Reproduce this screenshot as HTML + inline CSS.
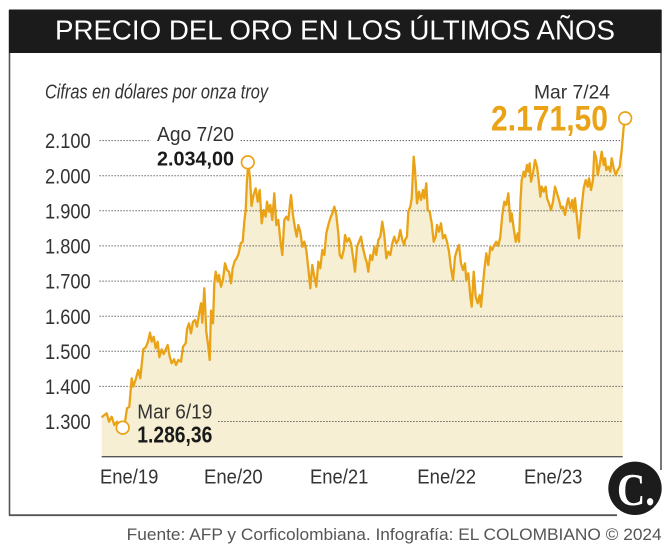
<!DOCTYPE html>
<html>
<head>
<meta charset="utf-8">
<style>
  html,body{margin:0;padding:0;background:#fff;}
  svg{display:block;}
  text{font-family:"Liberation Sans",sans-serif;}
</style>
</head>
<body>
<svg width="671" height="551" viewBox="0 0 671 551" xmlns="http://www.w3.org/2000/svg">
  <rect x="0" y="0" width="671" height="551" fill="#ffffff"/>

  <!-- frame -->
  <line x1="9.5" y1="10" x2="9.5" y2="515.5" stroke="#555" stroke-width="1.6"/>
  <line x1="9" y1="515.2" x2="617" y2="515.2" stroke="#555" stroke-width="1.8"/>
  <line x1="661" y1="10" x2="661" y2="470" stroke="#555" stroke-width="1.6"/>

  <!-- title bar -->
  <rect x="9" y="9.5" width="652.5" height="43.5" fill="#1b1b1b"/>
  <text x="55" y="39.5" font-size="28" fill="#ffffff" textLength="560" lengthAdjust="spacingAndGlyphs">PRECIO DEL ORO EN LOS ÚLTIMOS AÑOS</text>

  <!-- subtitle -->
  <text x="45" y="98.3" font-size="20" font-style="italic" fill="#333" textLength="223" lengthAdjust="spacingAndGlyphs">Cifras en dólares por onza troy</text>

  <!-- area fill -->
  <polygon fill="#f6efd3" points="101.7,456.7 101.7,416.7 102.3,416.7 106.7,413.3 109,421.7 111.7,416.7 114.3,425 117,421.7 120,426.7 122.7,427.7 125,421.7 127,408.3 129.3,406.7 131.7,378.3 133.3,386.7 135.7,379.3 138.3,370 140.3,378.3 143.3,349.3 145.7,347.3 147.7,342.7 150,332.7 151.7,341.7 153.7,336.7 155.7,348.3 157.7,341.7 159.3,357.3 161.7,349.3 163.7,354 165.7,349.3 167.7,345 169.7,356.7 171.7,363.3 174,359.3 176,365 178.3,360 181,361.7 183,346.7 185.7,343.3 187,329.3 189,323.3 191,333.3 193,321.7 195,320 197,326.7 199,314 201,303.3 202.3,322.7 204.3,288.3 206.3,331.7 208.3,346.7 209.7,360 211,310.7 213,323.3 214.3,283.3 215.7,271.7 217.7,281.7 219,275 221,286.7 223,279.3 225,263.3 227,270 229,271.7 231,283.3 232.7,268.3 234.7,261 236.7,258.3 238.7,253.3 240.7,243.3 242.7,241.7 244.3,221.7 245.7,210 247,180 248.3,163.5 250,178 251.5,206 253.5,195 255.7,188.3 257.7,201.7 259.7,190 261.7,223.3 263.7,210 265.7,216.7 267,201.7 269,211.7 270.3,205 272.3,220 274.3,193.3 276.3,225 278.3,220 280.3,240 282.3,255 284.3,220 286.3,216.7 288.3,220 291,195 293,215 295,228.3 296.7,236.7 298.3,225 300.3,231.7 302.3,246.7 304.3,241.7 306.3,250 308.3,268.3 310.3,288.3 312.3,265 314.3,276.7 316.3,286.7 318.3,261.7 320.3,268.3 322.3,250 324.3,255 326.3,233.3 328.3,225 330.3,218.3 332.3,213.3 334.3,206.7 336.3,215 338.3,233.3 339.7,255 341.7,258.3 343.7,250 345,235 347,241.7 349,238.3 351,243.3 353,256.7 355,271.7 357,246.7 359,241.7 361,236.7 363,248.3 365,256.7 367,263.3 368.3,271.7 370.3,255 372.3,260 374.3,246.7 376.3,255 378.3,240 380.3,236.7 382.3,221.7 384.3,235 386.3,258.3 388.3,251.7 390.3,255 392.3,243.3 394.3,236.7 396.3,243.3 398.3,240 400.3,230 402.3,240 404.3,245 405,240 407,236.7 408.3,211.7 410.3,206.7 411.7,198.3 413.7,156.7 415,170 417,203.3 419,191.7 421,200 423,190 424.3,198.3 426.3,183.3 427.7,210 429.7,211.7 431.7,223.3 433.7,241.7 435.7,236.7 437,225 439,231.7 441,223.3 443,238.3 445,235 447,241.7 449,251.7 451,268.3 453,280 455,256.7 457,250 459,245 461,263.3 463,270 465,263.3 466.3,280 468.3,273.3 470.3,296.7 471.7,306.7 473.7,271.7 475.7,296.7 477.7,303.3 479.7,295 481,306.7 482.3,293.3 484.3,270 486.3,253.3 488.3,265 490.3,246.7 492.3,250 494.3,245 496.3,241.7 498.3,246 500.3,236.7 502.3,215 504.3,201.7 506.3,205 508.3,193.3 510.3,221.7 511.7,213.3 513.7,228.3 515.7,241.7 517.7,233.3 519,241.7 520.5,200 521.7,180 523.7,171.7 525,176.7 527,165 528.3,171.7 529.7,163.3 531,181.7 533,173.3 535,160 537,166.7 539,183.3 540.3,196.7 541.7,186.7 543.7,191.7 545.7,186.7 547,198.3 549,203.3 551,210 553,201.7 555,186.7 557,193.3 559,200 561,208.3 563,206.7 565,215 567,203.3 568.3,198.3 570.3,208.3 572.3,200 573.7,211.7 575,198.3 577,218.3 579,238.3 580.3,223.3 581.7,206.7 583.7,188.3 585.7,180 587.7,186.7 589,178.3 591,190 593,180 594.3,151.7 596.3,158.3 597.7,175 599.7,165 601.7,151.7 603.7,165 605,158.3 606.3,170 608.3,166.7 610.3,171.7 611.7,158.3 613.7,168.3 615.7,175 617.7,170 619.7,166.7 621.7,150 622.8,138 622.8,456.7"/>

  <!-- gridlines -->
  <g stroke="#444" stroke-width="1" stroke-dasharray="1.2 1.8" fill="none">
    <line x1="99.5" y1="140.6" x2="150.7" y2="140.6"/>
    <line x1="240.7" y1="140.6" x2="622.7" y2="140.6"/>
    <line x1="99.5" y1="175.7" x2="622.7" y2="175.7"/>
    <line x1="99.5" y1="210.8" x2="622.7" y2="210.8"/>
    <line x1="99.5" y1="245.9" x2="622.7" y2="245.9"/>
    <line x1="99.5" y1="281.1" x2="622.7" y2="281.1"/>
    <line x1="99.5" y1="316.2" x2="622.7" y2="316.2"/>
    <line x1="99.5" y1="351.3" x2="622.7" y2="351.3"/>
    <line x1="99.5" y1="386.4" x2="622.7" y2="386.4"/>
    <line x1="218.3" y1="421.5" x2="622.7" y2="421.5"/>
  </g>

  <!-- x axis -->
  <line x1="101.7" y1="456.7" x2="622.7" y2="456.7" stroke="#555" stroke-width="1.4"/>

  <!-- gold line -->
  <polyline fill="none" stroke="#eaa316" stroke-width="2.3" stroke-linejoin="round" stroke-linecap="round" points="102.3,416.7 106.7,413.3 109,421.7 111.7,416.7 114.3,425 117,421.7 120,426.7 122.7,427.7 125,421.7 127,408.3 129.3,406.7 131.7,378.3 133.3,386.7 135.7,379.3 138.3,370 140.3,378.3 143.3,349.3 145.7,347.3 147.7,342.7 150,332.7 151.7,341.7 153.7,336.7 155.7,348.3 157.7,341.7 159.3,357.3 161.7,349.3 163.7,354 165.7,349.3 167.7,345 169.7,356.7 171.7,363.3 174,359.3 176,365 178.3,360 181,361.7 183,346.7 185.7,343.3 187,329.3 189,323.3 191,333.3 193,321.7 195,320 197,326.7 199,314 201,303.3 202.3,322.7 204.3,288.3 206.3,331.7 208.3,346.7 209.7,360 211,310.7 213,323.3 214.3,283.3 215.7,271.7 217.7,281.7 219,275 221,286.7 223,279.3 225,263.3 227,270 229,271.7 231,283.3 232.7,268.3 234.7,261 236.7,258.3 238.7,253.3 240.7,243.3 242.7,241.7 244.3,221.7 245.7,210 247,180 248.3,163.5 250,178 251.5,206 253.5,195 255.7,188.3 257.7,201.7 259.7,190 261.7,223.3 263.7,210 265.7,216.7 267,201.7 269,211.7 270.3,205 272.3,220 274.3,193.3 276.3,225 278.3,220 280.3,240 282.3,255 284.3,220 286.3,216.7 288.3,220 291,195 293,215 295,228.3 296.7,236.7 298.3,225 300.3,231.7 302.3,246.7 304.3,241.7 306.3,250 308.3,268.3 310.3,288.3 312.3,265 314.3,276.7 316.3,286.7 318.3,261.7 320.3,268.3 322.3,250 324.3,255 326.3,233.3 328.3,225 330.3,218.3 332.3,213.3 334.3,206.7 336.3,215 338.3,233.3 339.7,255 341.7,258.3 343.7,250 345,235 347,241.7 349,238.3 351,243.3 353,256.7 355,271.7 357,246.7 359,241.7 361,236.7 363,248.3 365,256.7 367,263.3 368.3,271.7 370.3,255 372.3,260 374.3,246.7 376.3,255 378.3,240 380.3,236.7 382.3,221.7 384.3,235 386.3,258.3 388.3,251.7 390.3,255 392.3,243.3 394.3,236.7 396.3,243.3 398.3,240 400.3,230 402.3,240 404.3,245 405,240 407,236.7 408.3,211.7 410.3,206.7 411.7,198.3 413.7,156.7 415,170 417,203.3 419,191.7 421,200 423,190 424.3,198.3 426.3,183.3 427.7,210 429.7,211.7 431.7,223.3 433.7,241.7 435.7,236.7 437,225 439,231.7 441,223.3 443,238.3 445,235 447,241.7 449,251.7 451,268.3 453,280 455,256.7 457,250 459,245 461,263.3 463,270 465,263.3 466.3,280 468.3,273.3 470.3,296.7 471.7,306.7 473.7,271.7 475.7,296.7 477.7,303.3 479.7,295 481,306.7 482.3,293.3 484.3,270 486.3,253.3 488.3,265 490.3,246.7 492.3,250 494.3,245 496.3,241.7 498.3,246 500.3,236.7 502.3,215 504.3,201.7 506.3,205 508.3,193.3 510.3,221.7 511.7,213.3 513.7,228.3 515.7,241.7 517.7,233.3 519,241.7 520.5,200 521.7,180 523.7,171.7 525,176.7 527,165 528.3,171.7 529.7,163.3 531,181.7 533,173.3 535,160 537,166.7 539,183.3 540.3,196.7 541.7,186.7 543.7,191.7 545.7,186.7 547,198.3 549,203.3 551,210 553,201.7 555,186.7 557,193.3 559,200 561,208.3 563,206.7 565,215 567,203.3 568.3,198.3 570.3,208.3 572.3,200 573.7,211.7 575,198.3 577,218.3 579,238.3 580.3,223.3 581.7,206.7 583.7,188.3 585.7,180 587.7,186.7 589,178.3 591,190 593,180 594.3,151.7 596.3,158.3 597.7,175 599.7,165 601.7,151.7 603.7,165 605,158.3 606.3,170 608.3,166.7 610.3,171.7 611.7,158.3 613.7,168.3 615.7,175 617.7,170 619.7,166.7 621.7,150 623.7,126.7 625,118.5"/>

  <!-- markers -->
  <g fill="#ffffff" stroke="#eaa316" stroke-width="1.7">
    <circle cx="122.7" cy="427.7" r="6.3"/>
    <circle cx="247.8" cy="162.3" r="6.3"/>
    <circle cx="625.2" cy="118.3" r="6.3"/>
  </g>

  <!-- y labels -->
  <g font-size="21" fill="#333" text-anchor="end">
    <text x="90.7" y="148.2" textLength="45.7" lengthAdjust="spacingAndGlyphs">2.100</text>
    <text x="90.7" y="183.3" textLength="45.7" lengthAdjust="spacingAndGlyphs">2.000</text>
    <text x="90.7" y="218.4" textLength="45.7" lengthAdjust="spacingAndGlyphs">1.900</text>
    <text x="90.7" y="253.5" textLength="45.7" lengthAdjust="spacingAndGlyphs">1.800</text>
    <text x="90.7" y="288.7" textLength="45.7" lengthAdjust="spacingAndGlyphs">1.700</text>
    <text x="90.7" y="323.8" textLength="45.7" lengthAdjust="spacingAndGlyphs">1.600</text>
    <text x="90.7" y="358.9" textLength="45.7" lengthAdjust="spacingAndGlyphs">1.500</text>
    <text x="90.7" y="394.0" textLength="45.7" lengthAdjust="spacingAndGlyphs">1.400</text>
    <text x="90.7" y="429.1" textLength="45.7" lengthAdjust="spacingAndGlyphs">1.300</text>
  </g>

  <!-- x labels -->
  <g font-size="20" fill="#333">
    <text x="100" y="483.3" textLength="58.3" lengthAdjust="spacingAndGlyphs">Ene/19</text>
    <text x="204" y="483.3" textLength="58.7" lengthAdjust="spacingAndGlyphs">Ene/20</text>
    <text x="310" y="483.3" textLength="58.3" lengthAdjust="spacingAndGlyphs">Ene/21</text>
    <text x="417.3" y="483.3" textLength="58.7" lengthAdjust="spacingAndGlyphs">Ene/22</text>
    <text x="524" y="483.3" textLength="58.3" lengthAdjust="spacingAndGlyphs">Ene/23</text>
  </g>

  <!-- annotations -->
  <text x="157" y="141" font-size="20" fill="#333" textLength="77" lengthAdjust="spacingAndGlyphs">Ago 7/20</text>
  <text x="157" y="165.7" font-size="20.5" font-weight="bold" fill="#1a1a1a" textLength="77" lengthAdjust="spacingAndGlyphs">2.034,00</text>

  <text x="137.3" y="418.3" font-size="20.5" fill="#333" textLength="75" lengthAdjust="spacingAndGlyphs">Mar 6/19</text>
  <text x="137.3" y="442.7" font-size="23" font-weight="bold" fill="#1a1a1a" textLength="75" lengthAdjust="spacingAndGlyphs">1.286,36</text>

  <text x="534" y="98.3" font-size="19.5" fill="#333" textLength="76" lengthAdjust="spacingAndGlyphs">Mar 7/24</text>
  <text x="491" y="130.7" font-size="35" font-weight="bold" fill="#eaa316" textLength="117" lengthAdjust="spacingAndGlyphs">2.171,50</text>

  <!-- logo -->
  <circle cx="635" cy="488.3" r="26.7" fill="#1c1c1c"/>
  <text x="617" y="505" style="font-family:'Liberation Serif',serif;font-weight:bold;font-size:46px" fill="#ffffff" textLength="38" lengthAdjust="spacingAndGlyphs">C.</text>

  <!-- footer -->
  <text x="126.7" y="540" font-size="17" fill="#555" textLength="535" lengthAdjust="spacingAndGlyphs">Fuente: AFP y Corficolombiana. Infografía: EL COLOMBIANO © 2024</text>
</svg>
</body>
</html>
